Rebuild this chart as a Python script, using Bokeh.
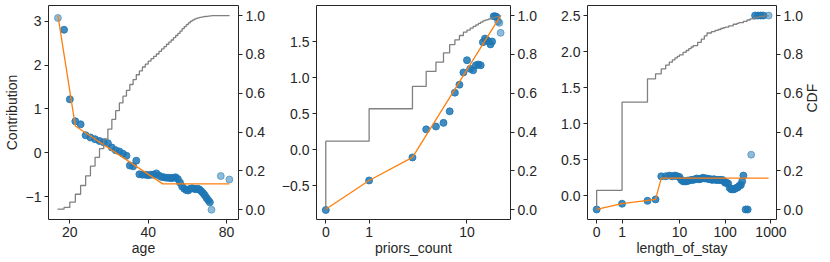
import math
from bokeh.plotting import figure
from bokeh.models import Range1d, LinearAxis, FixedTicker, ColumnDataSource
from bokeh.layouts import row
from bokeh.embed import file_html
from bokeh.resources import INLINE

# ---------------- data ----------------
# panel 1: age
age_vals = list(range(18, 71)) + [76, 82]
age_contrib = [3.08, 2.81, 1.22, 0.72, 0.65, 0.40, 0.35, 0.31, 0.27, 0.24,
               0.22, 0.12, 0.06, 0.03, -0.02, -0.07, -0.29, -0.31, -0.18, -0.49,
               -0.50, -0.50, -0.51, -0.50, -0.50, -0.47, -0.52, -0.55, -0.56, -0.57,
               -0.57, -0.58, -0.57, -0.56, -0.60, -0.68, -0.77, -0.82, -0.85, -0.86,
               -0.82, -0.81, -0.82, -0.83, -0.82, -0.84, -0.88, -0.92, -0.97, -1.03,
               -1.08, -1.13, -1.30, -0.53, -0.61]
age_rare = [18, 70, 76, 82]
age_cdf = [0.003, 0.012, 0.04, 0.08, 0.125, 0.175, 0.225, 0.27, 0.315, 0.365,
           0.415, 0.465, 0.51, 0.55, 0.585, 0.615, 0.645, 0.67, 0.695, 0.715,
           0.735, 0.75, 0.765, 0.778, 0.79, 0.802, 0.815, 0.828, 0.84, 0.852,
           0.863, 0.874, 0.886, 0.897, 0.908, 0.92, 0.932, 0.943, 0.953, 0.962,
           0.97, 0.976, 0.981, 0.985, 0.988, 0.99, 0.992, 0.994, 0.995, 0.996,
           0.997, 0.998, 0.999, 0.9995, 1.0]
age_fit_x = [18, 21, 45.5, 82]
age_fit_y = [3.13, 0.61, -0.71, -0.71]

# panel 2: priors_count
priors_vals = list(range(0, 28))
priors_contrib = [-0.84, -0.43, -0.11, 0.28, 0.32, 0.37, 0.53, 0.79, 0.90, 1.07,
                  1.24, 1.12, 1.10, 1.17, 1.18, 1.17, 1.49, 1.54, 1.52, 1.50,
                  1.46, 1.50, 1.85, 1.85, 1.84, 1.78, 1.76, 1.62]
priors_rare = [25, 26, 27]
priors_cdf = [0.353, 0.52, 0.635, 0.712, 0.76, 0.808, 0.85, 0.875, 0.897, 0.914,
              0.925, 0.935, 0.944, 0.952, 0.96, 0.966, 0.972, 0.976, 0.979, 0.982,
              0.985, 0.988, 0.99, 0.992, 0.994, 0.996, 0.998, 1.0]
priors_fit_x = [0, 1, 2, 27]
priors_fit_y = [-0.83, -0.43, -0.11, 1.86]

# panel 3: length_of_stay
los_vals = [0, 1, 2, 3, 4, 5, 6, 7, 8, 9, 10, 11, 12, 13, 14, 15, 16, 18, 20, 22,
            24, 26, 28, 30, 33, 36, 40, 44, 48, 52, 57, 62, 68, 74, 80, 87, 94, 100,
            108, 116, 125, 135, 145, 155, 165, 178, 190, 205, 220, 235, 250, 280,
            310, 370, 450, 520, 600, 680, 890]
los_contrib = [-0.19, -0.11, -0.07, -0.05, 0.27, 0.27, 0.28, 0.27, 0.28, 0.27,
               0.26, 0.22, 0.20, 0.20, 0.20, 0.21, 0.21, 0.22, 0.22, 0.23,
               0.24, 0.23, 0.23, 0.24, 0.25, 0.24, 0.24, 0.23, 0.23, 0.22,
               0.23, 0.22, 0.22, 0.22, 0.22, 0.22, 0.20, 0.18, 0.18, 0.17,
               0.11, 0.09, 0.09, 0.09, 0.10, 0.11, 0.12, 0.14, 0.15, 0.20,
               0.28, -0.19, -0.19, 0.57, 2.5, 2.5, 2.5, 2.5, 2.5]
los_rare = [370, 890]
los_cdf_x = [0, 1, 2, 3, 4, 5, 6, 7, 8, 9, 10, 12, 14, 16, 18, 20, 25, 30, 35, 40,
             50, 60, 70, 80, 90, 100, 120, 150, 180, 200, 250, 300, 350, 450, 550,
             700, 890]
los_cdf = [0.10, 0.554, 0.674, 0.70, 0.725, 0.745, 0.76, 0.772, 0.782, 0.79,
           0.797, 0.81, 0.82, 0.83, 0.838, 0.845, 0.862, 0.878, 0.895, 0.91,
           0.917, 0.923, 0.928, 0.933, 0.937, 0.94, 0.947, 0.955, 0.96, 0.963,
           0.97, 0.977, 0.983, 0.99, 0.995, 0.998, 1.0]
los_fit_x = [0, 1, 3, 4, 890]
los_fit_y = [-0.19, -0.11, -0.05, 0.245, 0.245]

# ---------------- helpers ----------------
FONT = "Liberation Sans"
BLUE = "#1f77b4"
ORANGE = "#ff7f0e"
GRAY = "#808080"
INK = "#262626"
H = 262


def symlog(v, linthresh=2.0, base=10.0, linscale=1.0):
    adj = linscale / (1.0 - 1.0 / base)
    a = abs(v)
    if a <= linthresh:
        return v * adj
    return math.copysign(linthresh * (adj + math.log(a / linthresh, base)), v)


def style_axis(ax, ticks, labels, label_standoff=0):
    ax.ticker = FixedTicker(ticks=ticks, minor_ticks=[])
    ax.major_label_overrides = {t: l for t, l in zip(ticks, labels)}
    ax.major_tick_out = 4
    ax.major_tick_in = 0
    ax.minor_tick_out = 0
    ax.minor_tick_in = 0
    ax.major_tick_line_color = INK
    ax.major_tick_line_width = 1
    ax.axis_line_color = None
    ax.major_label_text_font = FONT
    ax.major_label_text_font_size = "14px"
    ax.major_label_text_color = INK
    ax.major_label_standoff = 3
    ax.axis_label_text_font = FONT
    ax.axis_label_text_font_size = "14px"
    ax.axis_label_text_font_style = "normal"
    ax.axis_label_text_color = INK
    ax.axis_label_standoff = label_standoff


def make_fig(width, xr, yr, left, right, x_axis_type="linear"):
    p = figure(width=width, height=H, x_range=xr, y_range=yr,
               x_axis_type=x_axis_type, output_backend="svg",
               toolbar_location=None, min_border_left=left,
               min_border_right=right, min_border_top=5, min_border_bottom=43)
    p.extra_y_ranges = {"cdf": Range1d(-0.0499, 1.0515)}
    p.xgrid.visible = False
    p.ygrid.visible = False
    p.outline_line_color = INK
    p.outline_line_width = 1
    p.outline_line_alpha = 1
    p.background_fill_color = "white"
    p.border_fill_color = "white"
    rax = LinearAxis(y_range_name="cdf")
    p.add_layout(rax, "right")
    style_axis(rax, [0, 0.2, 0.4, 0.6, 0.8, 1.0],
               ["0.0", "0.2", "0.4", "0.6", "0.8", "1.0"])
    return p, rax


# ---------------- panel 1 ----------------
p1, r1 = make_fig(272, Range1d(16.56, 88.9), Range1d(-1.523, 3.363), 45, 34,
                  x_axis_type="log")
a1 = [0.5 if v in age_rare else 0.85 for v in age_vals]
s1 = ColumnDataSource(dict(x=age_vals, y=age_contrib, a=a1))
p1.scatter("x", "y", source=s1, size=7, fill_color=BLUE, line_color=BLUE,
           fill_alpha="a", line_alpha="a")
p1.line(age_fit_x, age_fit_y, line_color=ORANGE, line_width=1.3)
p1.step([age_vals[0]] + age_vals, [0.0] + age_cdf, mode="after",
        y_range_name="cdf", line_color=GRAY, line_width=1.3)
style_axis(p1.xaxis[0], [20, 40, 80], ["20", "40", "80"])
style_axis(p1.yaxis[0], [-1, 0, 1, 2, 3], ["\u22121", "0", "1", "2", "3"], 3)
p1.xaxis[0].axis_label = "age"
p1.yaxis[0].axis_label = "Contribution"

# ---------------- panel 2 ----------------
p2, r2 = make_fig(273, Range1d(-0.238, 4.736), Range1d(-0.972, 2.0), 44, 35)
px = [symlog(v) for v in priors_vals]
a2 = [0.5 if v in priors_rare else 0.85 for v in priors_vals]
s2 = ColumnDataSource(dict(x=px, y=priors_contrib, a=a2))
p2.scatter("x", "y", source=s2, size=7, fill_color=BLUE, line_color=BLUE,
           fill_alpha="a", line_alpha="a")
p2.line([symlog(v) for v in priors_fit_x], priors_fit_y, line_color=ORANGE,
        line_width=1.3)
p2.step([symlog(priors_vals[0])] + px, [0.0] + priors_cdf, mode="after",
        y_range_name="cdf", line_color=GRAY, line_width=1.3)
t2 = [symlog(v) for v in [0, 1, 10]]
style_axis(p2.xaxis[0], t2, ["0", "1", "10"])
style_axis(p2.yaxis[0], [-0.5, 0.0, 0.5, 1.0, 1.5],
           ["\u22120.5", "0.0", "0.5", "1.0", "1.5"])
p2.xaxis[0].axis_label = "priors_count"

# ---------------- panel 3 ----------------
p3, r3 = make_fig(285, Range1d(-0.40, 7.863), Range1d(-0.329, 2.639), 42, 49)
lx = [symlog(v) for v in los_vals]
a3 = [0.5 if v in los_rare else 0.85 for v in los_vals]
s3 = ColumnDataSource(dict(x=lx, y=los_contrib, a=a3))
p3.scatter("x", "y", source=s3, size=7, fill_color=BLUE, line_color=BLUE,
           fill_alpha="a", line_alpha="a")
p3.line([symlog(v) for v in los_fit_x], los_fit_y, line_color=ORANGE,
        line_width=1.3)
lcx = [symlog(v) for v in los_cdf_x]
p3.step([lcx[0]] + lcx, [0.0] + los_cdf, mode="after",
        y_range_name="cdf", line_color=GRAY, line_width=1.3)
t3 = [symlog(v) for v in [0, 1, 10, 100, 1000]]
style_axis(p3.xaxis[0], t3, ["0", "1", "10", "100", "1000"])
style_axis(p3.yaxis[0], [0.0, 0.5, 1.0, 1.5, 2.0, 2.5],
           ["0.0", "0.5", "1.0", "1.5", "2.0", "2.5"])
p3.xaxis[0].axis_label = "length_of_stay"
r3.axis_label = "CDF"
r3.axis_label_orientation = math.pi / 2
r3.axis_label_standoff = 6

layout = row(p1, p2, p3)
open("out.html", "w").write(file_html(layout, INLINE))
